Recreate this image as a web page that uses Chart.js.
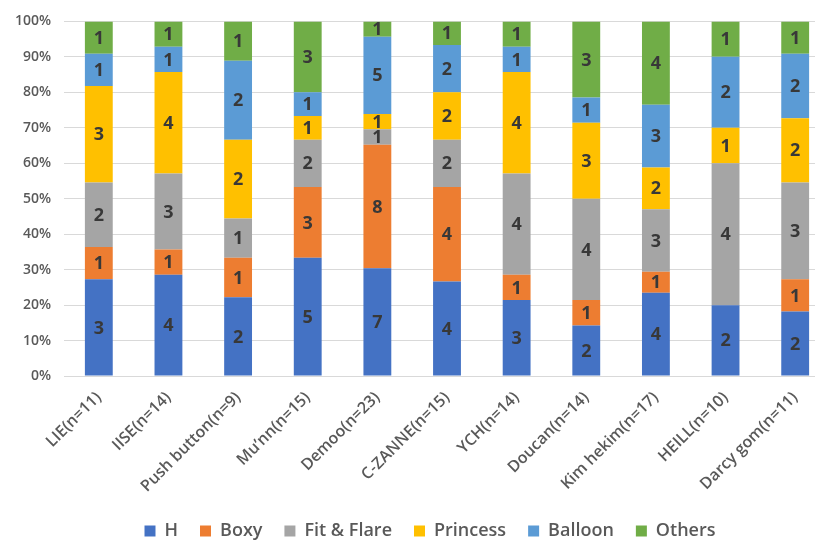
<!DOCTYPE html>
<html>
<head>
<meta charset="utf-8">
<script src="https://cdn.jsdelivr.net/npm/chart.js@4.4.1/dist/chart.umd.min.js"></script>
<style>
  html, body { margin: 0; padding: 0; background: #fff; overflow: hidden; }
  #wrap { width: 830px; height: 540px; }
</style>
</head>
<body>
<div id="wrap"><canvas id="shapeChart"></canvas></div>
<script>
// brands and counts of each silhouette
var brands = ['LIE(n=11)', 'IISE(n=14)', 'Push button(n=9)', 'Mu\u2019nn(n=15)', 'Demoo(n=23)',
    'C-ZANNE(n=15)', 'YCH(n=14)', 'Doucan(n=14)', 'Kim hekim(n=17)', 'HEILL(n=10)', 'Darcy gom(n=11)'];

var hCounts        = [3, 4, 2, 5, 7, 4, 3, 2, 4, 2, 2];
var boxyCounts     = [1, 1, 1, 3, 8, 4, 1, 1, 1, 0, 1];
var fitFlareCounts = [2, 3, 1, 2, 1, 2, 4, 4, 3, 4, 3];
var princessCounts = [3, 4, 2, 1, 1, 2, 4, 3, 2, 1, 2];
var balloonCounts  = [1, 1, 2, 1, 5, 2, 1, 1, 3, 2, 2];
var othersCounts   = [1, 1, 1, 3, 1, 1, 1, 3, 4, 1, 1];

var yTicks = [0, 10, 20, 30, 40, 50, 60, 70, 80, 90, 100];

var allCounts = [hCounts, boxyCounts, fitFlareCounts, princessCounts, balloonCounts, othersCounts];

// totals per brand, used to turn counts into shares
var totals = brands.map(function (b, i) {
    return allCounts.reduce(function (sum, arr) { return sum + arr[i]; }, 0);
});

function toPercent(counts) {
    return counts.map(function (c, i) { return c / totals[i] * 100; });
}

function makeSet(label, counts, color) {
    return {
        label: label,
        data: toPercent(counts),
        counts: counts,
        backgroundColor: color,
        borderWidth: 0,
        barPercentage: 0.4,
        categoryPercentage: 1.0
    };
}

// writes the count in the middle of each segment
var countLabels = {
    id: 'countLabels',
    afterDatasetsDraw: function (chart) {
        var ctx = chart.ctx;
        ctx.save();
        ctx.font = 'bold 18px "Open Sans"';
        ctx.fillStyle = '#383838';
        ctx.textAlign = 'center';
        ctx.textBaseline = 'middle';
        chart.data.datasets.forEach(function (ds, di) {
            var meta = chart.getDatasetMeta(di);
            meta.data.forEach(function (bar, i) {
                var c = ds.counts[i];
                if (!c) return;
                var mid = (bar.y + bar.base) / 2;
                ctx.fillText(String(c), bar.x, mid + 1);
            });
        });
        ctx.restore();
    }
};

// nudge the legend a bit to the right, like the original
var legendShift = {
    id: 'legendShift',
    afterLayout: function (chart) {
        if (chart.legend) {
            chart.legend.left += 15;
            chart.legend.right += 15;
        }
    }
};

var ctx = document.getElementById('shapeChart').getContext('2d');
var chart = new Chart(ctx, {
    type: 'bar',
    data: {
        labels: brands,
        datasets: [
            makeSet('H', hCounts, '#4472C4'),
            makeSet('Boxy', boxyCounts, '#ED7D31'),
            makeSet('Fit & Flare', fitFlareCounts, '#A5A5A5'),
            makeSet('Princess', princessCounts, '#FFC000'),
            makeSet('Balloon', balloonCounts, '#5B9BD5'),
            makeSet('Others', othersCounts, '#70AD47')
        ]
    },
    options: {
        responsive: true,
        maintainAspectRatio: false,
        animation: false,
        layout: {
            padding: { top: 16, left: 0, right: 0, bottom: -10 }
        },
        plugins: {
            legend: {
                position: 'bottom',
                labels: {
                    boxWidth: 11,
                    boxHeight: 11,
                    padding: 22,
                    color: '#595959',
                    font: { family: '"Open Sans"', size: 18, weight: '600' }
                }
            },
            tooltip: { enabled: false }
        },
        scales: {
            x: {
                stacked: true,
                grid: { display: false },
                border: { display: false },
                ticks: {
                    minRotation: 45,
                    maxRotation: 45,
                    color: '#595959',
                    padding: 4,
                    font: { family: '"Open Sans"', size: 16, weight: '600' }
                }
            },
            y: {
                stacked: true,
                min: 0,
                max: 100,
                afterFit: function (scale) { scale.width = 64; },
                afterBuildTicks: function (scale) {
                    scale.ticks = yTicks.map(function (v) { return { value: v }; });
                },
                grid: { color: '#D9D9D9', drawTicks: false },
                border: { display: false },
                ticks: {
                    padding: 13,
                    color: '#595959',
                    font: { family: '"Open Sans"', size: 14, weight: '600' },
                    callback: function (v) { return v + '%'; }
                }
            }
        }
    },
    plugins: [countLabels, legendShift]
});
</script>
</body>
</html>
